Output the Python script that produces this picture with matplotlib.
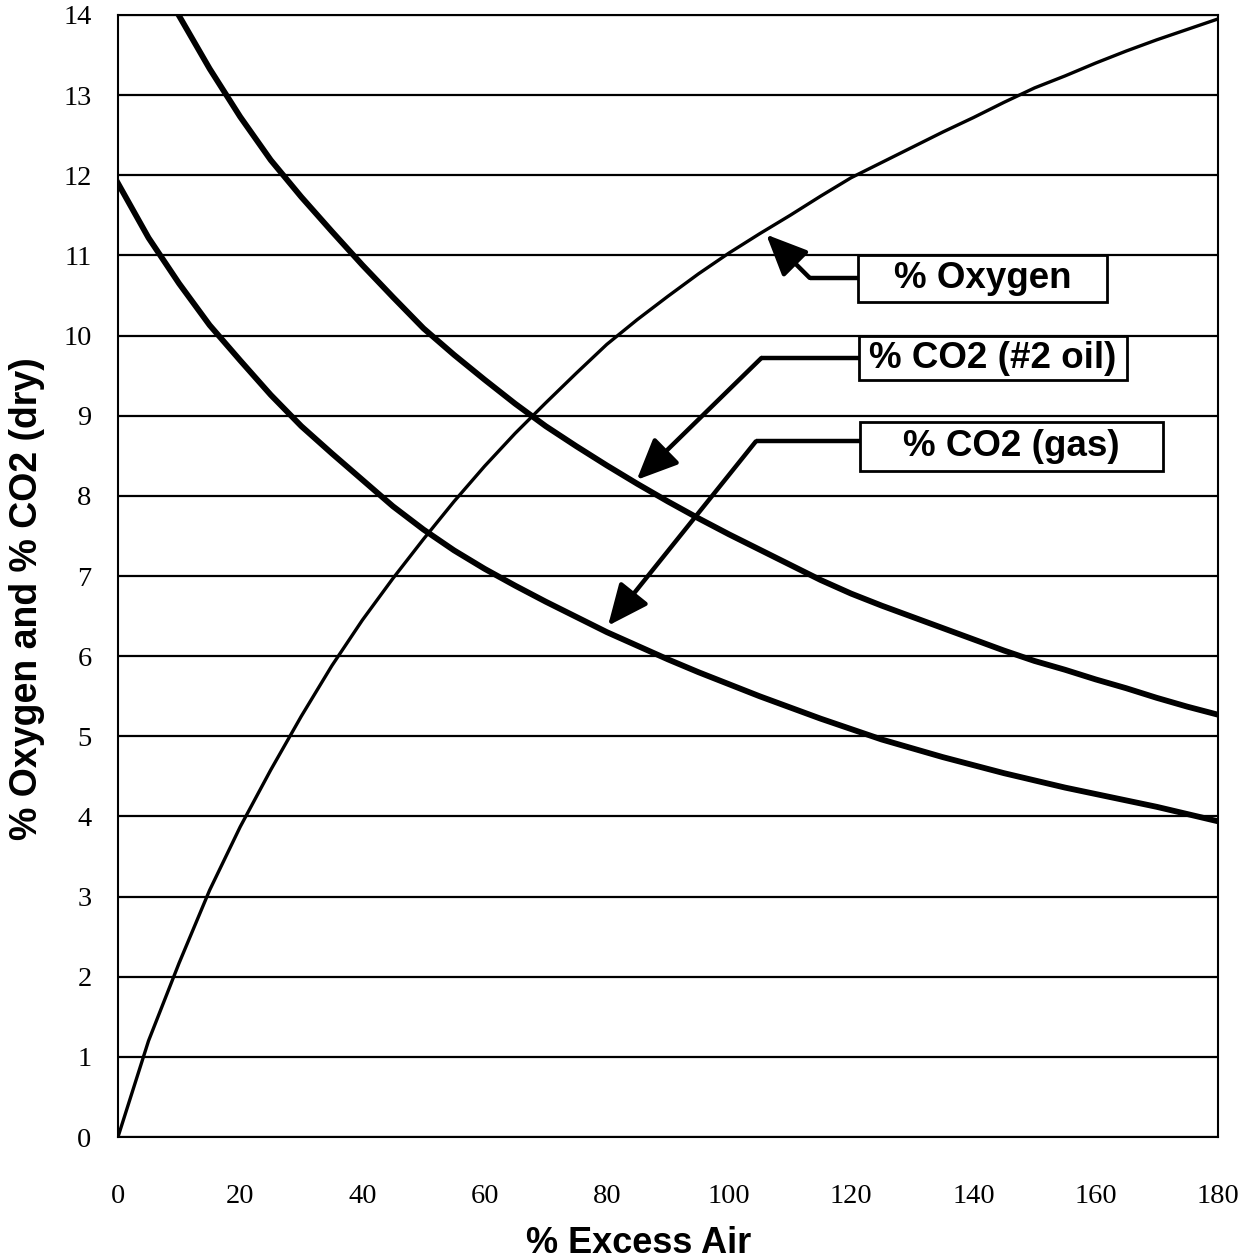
import matplotlib
matplotlib.use("Agg")
import matplotlib.pyplot as plt
from matplotlib.patches import Rectangle

# % excess air (read every 5 units)
excess_air = list(range(0, 181, 5))

# curves
oxygen = [0, 1.2, 2.17, 3.08, 3.87, 4.58, 5.25, 5.88, 6.45, 6.97, 7.46, 7.93, 8.37,
          8.78, 9.16, 9.53, 9.89, 10.2, 10.49, 10.77, 11.03, 11.27, 11.5, 11.74,
          11.97, 12.16, 12.35, 12.54, 12.72, 12.91, 13.09, 13.24, 13.4, 13.55,
          13.69, 13.82, 13.95]
co2_oil = [15.4, 14.68, 13.99, 13.33, 12.73, 12.19, 11.73, 11.3, 10.88, 10.48,
           10.09, 9.76, 9.45, 9.15, 8.87, 8.62, 8.38, 8.15, 7.93, 7.72, 7.52,
           7.33, 7.14, 6.95, 6.78, 6.63, 6.49, 6.35, 6.21, 6.07, 5.94, 5.83,
           5.71, 5.6, 5.48, 5.37, 5.27]
co2_gas = [11.9, 11.22, 10.65, 10.13, 9.69, 9.26, 8.87, 8.53, 8.2, 7.87, 7.58,
           7.32, 7.09, 6.88, 6.68, 6.49, 6.3, 6.13, 5.96, 5.8, 5.65, 5.5, 5.36,
           5.22, 5.09, 4.96, 4.85, 4.74, 4.64, 4.54, 4.45, 4.36, 4.28, 4.2, 4.12,
           4.03, 3.94]

x_ticks = list(range(0, 181, 20))
y_ticks = list(range(0, 15))

# callout labels and where they sit / point
labels = ["% Oxygen", "% CO2 (#2 oil)", "% CO2 (gas)"]
box_x0 = [121.1, 121.3, 121.4]
box_x1 = [161.8, 165.1, 171.1]
box_y0 = [10.42, 9.44, 8.31]
box_y1 = [11.01, 9.99, 8.92]
elbows = [(113.2, 10.72), (105.3, 9.72), (104.4, 8.68)]
tips = [(106.1, 11.26), (84.9, 8.2), (80.2, 6.38)]

fig = plt.figure(figsize=(12.47, 12.6), dpi=100)
ax = fig.add_axes([0.0946, 0.0976, 0.882, 0.8905])

for y in y_ticks:
    ax.axhline(y, color="black", linewidth=1.6, zorder=1)

ax.plot(excess_air, oxygen, color="black", linewidth=2.4, zorder=3)
ax.plot(excess_air, co2_oil, color="black", linewidth=4.2, zorder=3)
ax.plot(excess_air, co2_gas, color="black", linewidth=4.2, zorder=3)

for i, label in enumerate(labels):
    ymid = (box_y0[i] + box_y1[i]) / 2
    ax.plot([box_x0[i], elbows[i][0]], [elbows[i][1], elbows[i][1]],
            color="black", linewidth=3.2, zorder=4, solid_capstyle="butt")
    ax.annotate("", xy=tips[i], xytext=elbows[i],
                arrowprops=dict(arrowstyle="-|>,head_length=0.9,head_width=0.4",
                                color="black", linewidth=3.2, mutation_scale=28,
                                shrinkA=0, shrinkB=0),
                zorder=4)
    ax.add_patch(Rectangle((box_x0[i], box_y0[i]), box_x1[i] - box_x0[i],
                           box_y1[i] - box_y0[i], facecolor="white",
                           edgecolor="black", linewidth=2.0, zorder=5))
    ax.text((box_x0[i] + box_x1[i]) / 2, ymid, label, ha="center", va="center",
            fontsize=26.5, fontweight="bold", family="Liberation Sans", zorder=6)

ax.set_xlim(0, 180)
ax.set_ylim(0, 14)
ax.set_xticks(x_ticks)
ax.set_yticks(y_ticks)
ax.tick_params(length=0, labelsize=20.5)
ax.tick_params(axis="x", pad=34)
ax.tick_params(axis="y", pad=19)
for lab in ax.get_xticklabels() + ax.get_yticklabels():
    lab.set_family("Liberation Serif")
for sp in ax.spines.values():
    sp.set_linewidth(1.5)

ax.set_xlabel("% Excess Air", fontsize=26, fontweight="bold",
              family="Liberation Sans")
ax.xaxis.set_label_coords(0.473, -0.079)
ax.set_ylabel("% Oxygen and % CO2 (dry)", fontsize=27, fontweight="bold",
              family="Liberation Sans")
ax.yaxis.set_label_coords(-0.066, 0.48)

fig.savefig("out.png", dpi=100)
